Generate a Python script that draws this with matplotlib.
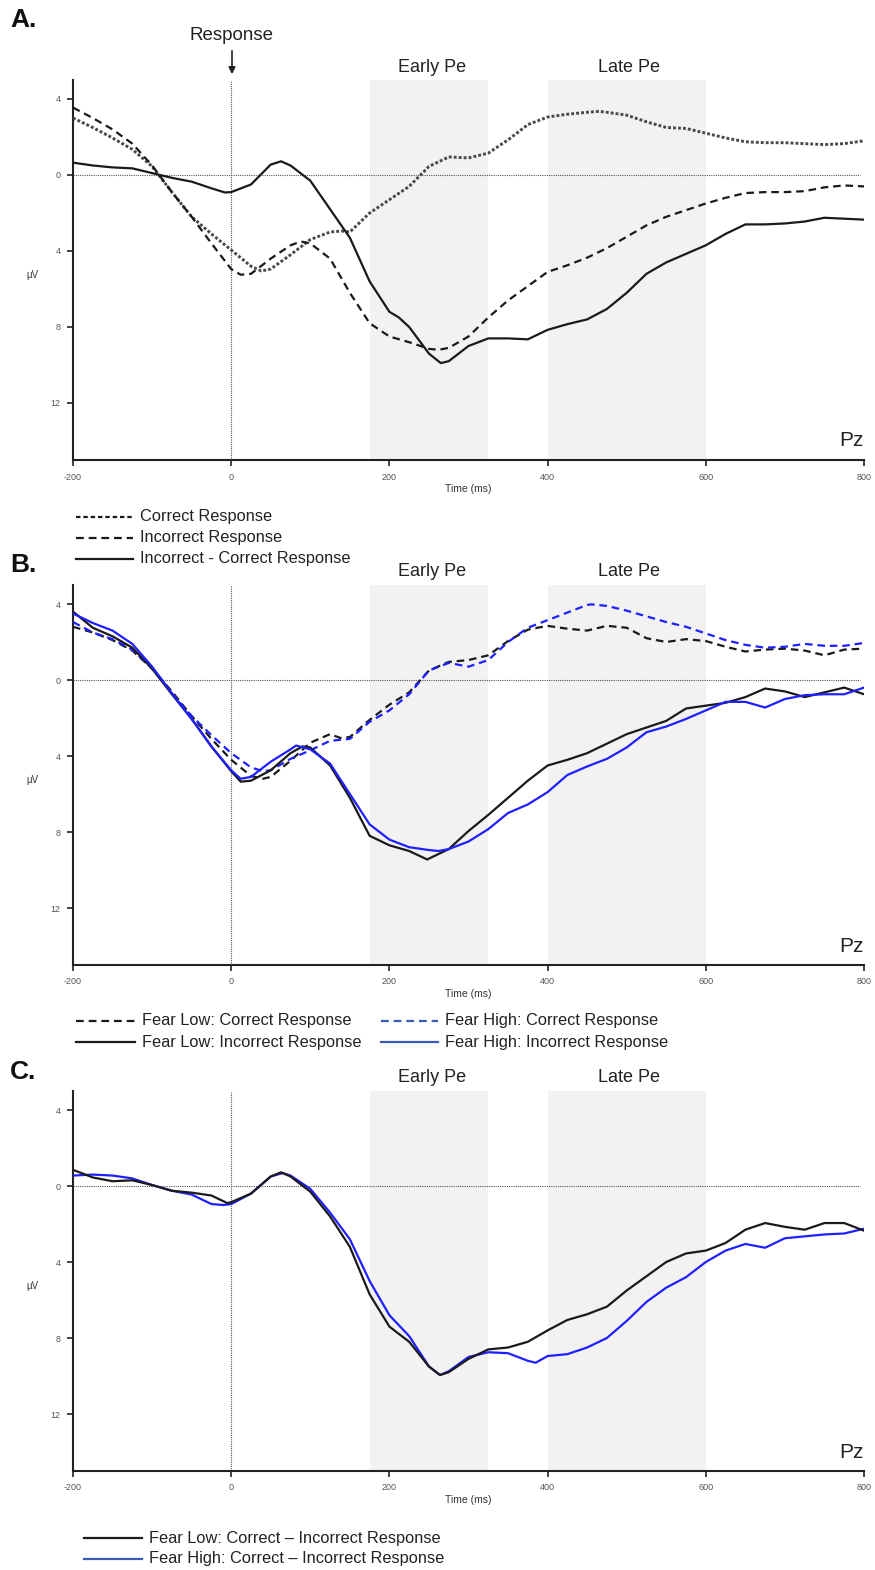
import matplotlib
matplotlib.use("Agg")
import matplotlib.pyplot as plt
from matplotlib.lines import Line2D
from matplotlib.patches import FancyArrowPatch
from matplotlib.ticker import FixedLocator, FixedFormatter

plt.rcParams['font.family'] = ['Liberation Sans', 'DejaVu Sans']
plt.rcParams['axes.unicode_minus'] = False

# ---- data (µV, positive plotted downward) ----
time_ms = list(range(-200, 801, 25))

a_correct = [-3.0, -2.5, -1.95, -1.35, -0.45, 0.9, 2.2, 3.1, 3.95, 4.8, 4.95, 4.2, 3.4,
             3.0, 3.0, 2.0, 1.3, 0.6, -0.45, -0.95, -0.9, -1.15, -1.85, -2.65, -3.05,
             -3.2, -3.3, -3.3, -3.15, -2.8, -2.5, -2.45, -2.2, -1.95, -1.75, -1.7, -1.7,
             -1.65, -1.6, -1.65, -1.8]
a_incorrect = [-3.55, -3.0, -2.4, -1.65, -0.5, 0.9, 2.2, 3.6, 4.95, 5.2, 4.4, 3.7, 3.6,
               4.4, 6.2, 7.8, 8.5, 8.8, 9.15, 9.1, 8.5, 7.5, 6.6, 5.85, 5.1, 4.75, 4.35,
               3.85, 3.25, 2.65, 2.2, 1.85, 1.5, 1.2, 0.95, 0.9, 0.9, 0.85, 0.65, 0.55, 0.6]
a_difference = [-0.65, -0.5, -0.4, -0.35, -0.1, 0.15, 0.35, 0.7, 0.9, 0.5, -0.55, -0.5,
                0.3, 1.8, 3.3, 5.6, 7.2, 8.0, 9.4, 9.8, 9.0, 8.6, 8.6, 8.65, 8.15, 7.85,
                7.6, 7.05, 6.2, 5.2, 4.6, 4.15, 3.7, 3.1, 2.6, 2.6, 2.55, 2.45, 2.25, 2.3, 2.35]

b_low_correct = [-2.8, -2.5, -2.1, -1.55, -0.6, 0.6, 1.9, 3.1, 4.2, 5.05, 5.1, 4.25, 3.3,
                 2.85, 3.0, 2.1, 1.3, 0.65, -0.5, -0.95, -1.05, -1.3, -2.05, -2.65, -2.85,
                 -2.7, -2.6, -2.85, -2.75, -2.2, -2.0, -2.15, -2.05, -1.75, -1.5, -1.6,
                 -1.65, -1.55, -1.3, -1.6, -1.65]
b_high_correct = [-3.05, -2.5, -2.15, -1.6, -0.6, 0.7, 1.9, 2.9, 3.85, 4.6, 4.75, 4.15, 3.7,
                  3.2, 3.1, 2.2, 1.6, 0.75, -0.5, -0.9, -0.7, -1.05, -2.0, -2.75, -3.15,
                  -3.55, -3.95, -3.9, -3.65, -3.35, -3.05, -2.8, -2.45, -2.1, -1.85, -1.7,
                  -1.75, -1.9, -1.8, -1.8, -1.95]
b_low_incorrect = [-3.6, -2.75, -2.3, -1.7, -0.6, 0.75, 2.05, 3.5, 4.8, 5.3, 4.75, 3.85,
                   3.55, 4.5, 6.2, 8.2, 8.7, 9.0, 9.4, 8.9, 7.95, 7.1, 6.2, 5.3, 4.5, 4.2,
                   3.85, 3.35, 2.85, 2.5, 2.15, 1.5, 1.35, 1.2, 0.9, 0.45, 0.6, 0.9, 0.65,
                   0.4, 0.75]
b_high_incorrect = [-3.5, -3.0, -2.6, -1.9, -0.7, 0.7, 2.05, 3.5, 4.75, 5.1, 4.3, 3.65,
                    3.65, 4.4, 6.0, 7.6, 8.4, 8.8, 8.95, 8.9, 8.5, 7.85, 7.0, 6.55, 5.9,
                    5.0, 4.55, 4.15, 3.55, 2.75, 2.45, 2.05, 1.6, 1.15, 1.15, 1.45, 1.0,
                    0.8, 0.75, 0.75, 0.4]

c_low_diff = [-0.85, -0.45, -0.25, -0.3, -0.05, 0.25, 0.35, 0.5, 0.85, 0.4, -0.5, -0.5,
              0.3, 1.6, 3.2, 5.7, 7.4, 8.2, 9.5, 9.8, 9.1, 8.6, 8.5, 8.2, 7.6, 7.05, 6.75,
              6.35, 5.5, 4.75, 4.0, 3.55, 3.4, 3.0, 2.3, 1.95, 2.15, 2.3, 1.95, 1.95, 2.35]
c_high_diff = [-0.55, -0.6, -0.55, -0.4, -0.05, 0.25, 0.45, 0.95, 0.95, 0.4, -0.5, -0.55,
               0.15, 1.4, 2.8, 5.0, 6.8, 7.9, 9.5, 9.75, 9.0, 8.75, 8.8, 9.2, 8.95, 8.85,
               8.5, 8.0, 7.1, 6.1, 5.35, 4.8, 4.0, 3.4, 3.05, 3.25, 2.75, 2.65, 2.55, 2.5, 2.25]

# extra samples at peaks and troughs (time, µV)
a_correct_peaks = [(38, 5.05), (140, 2.95), (465, -3.35)]
a_incorrect_peaks = [(12, 5.25), (88, 3.5), (262, 9.2)]
a_difference_peaks = [(-8, 0.92), (63, -0.72), (212, 7.5), (265, 9.9)]
b_low_correct_peaks = [(40, 5.2), (138, 3.05)]
b_high_correct_peaks = [(40, 4.8), (455, -3.98)]
b_low_incorrect_peaks = [(12, 5.35), (90, 3.5), (248, 9.45)]
b_high_incorrect_peaks = [(12, 5.2), (82, 3.45), (262, 9.0)]
c_low_diff_peaks = [(-5, 0.9), (63, -0.72), (264, 9.95)]
c_high_diff_peaks = [(-10, 1.0), (65, -0.68), (264, 9.95), (385, 9.3)]

x_ticks = [-200, 0, 200, 400, 600, 800]
y_ticks = [-4, 0, 4, 8, 12]
y_tick_labels = ["4", "0", "4", "8", "12"]
windows = [(175, 325, "Early Pe"), (400, 600, "Late Pe")]


def series(values, peaks):
    pts = sorted(list(zip(time_ms, values)) + list(peaks))
    return [p[0] for p in pts], [p[1] for p in pts]


# ---- layout helpers ----
W, H = 875, 1570
fig = plt.figure(figsize=(W / 100, H / 100), dpi=100)


def fx(px):
    return px / W


def fy(py):
    return 1 - py / H


BLACK = "#1a1a1a"
BLUE = "#1f1fff"
LEG_BLUE = "#3a5cb8"
DASH = (0, (3.4, 2.2))
DOT = (0, (1.0, 0.7))
TEXT = "#222222"
LW = 1.6


def make_axes(top_px, bottom_px):
    ax = fig.add_axes([fx(73), fy(bottom_px), fx(864) - fx(73),
                       (bottom_px - top_px) / H])
    ax.set_xlim(-200, 800)
    ax.set_ylim(15, -5)
    for lo, hi, _ in windows:
        ax.axvspan(lo, hi, color="#f2f2f2", zorder=0, lw=0)
    ax.axhline(0, color="#555555", lw=0.8, ls=(0, (1, 1)), zorder=1,
               xmax=0.995)
    ax.axvline(0, color="#555555", lw=0.8, ls=(0, (1, 1)), zorder=1)
    for s in ("top", "right"):
        ax.spines[s].set_visible(False)
    for s in ("left", "bottom"):
        ax.spines[s].set_linewidth(1.5)
        ax.spines[s].set_color(TEXT)
    ax.xaxis.set_major_locator(FixedLocator(x_ticks))
    ax.yaxis.set_major_locator(FixedLocator(y_ticks))
    ax.yaxis.set_major_formatter(FixedFormatter(y_tick_labels))
    ax.tick_params(direction="out", length=4, width=1.2, color=TEXT,
                   labelsize=6.5, labelcolor="#555555", pad=5)
    ax.text(1.0, 0.025, "Pz", transform=ax.transAxes, ha="right",
            va="bottom", fontsize=15, color=TEXT)
    return ax


def header(top_px, letter, letter_y):
    fig.text(fx(10), fy(letter_y), letter, fontsize=19, fontweight="bold",
             ha="left", va="center", color="#111111")
    for lo, hi, name in windows:
        centre = 232 + (lo + hi) / 2 * 0.791
        fig.text(fx(centre + 2), fy(top_px - 13), name, fontsize=13,
                 ha="center", va="center", color=TEXT)


def axis_labels(bottom_px, zero_px):
    fig.text(fx(468), fy(bottom_px + 29), "Time (ms)", fontsize=7.5,
             ha="center", va="center", color="#333333")
    fig.text(fx(32), fy(zero_px + 100), "µV", fontsize=7, ha="center",
             va="center", color="#333333")


def legend_row(x0, x1, y, label, color, ls):
    fig.add_artist(Line2D([fx(x0), fx(x1)], [fy(y), fy(y)], color=color,
                          lw=1.6, ls=ls, transform=fig.transFigure))
    fig.text(fx(x1 + 7), fy(y), label, fontsize=11.8, ha="left", va="center",
             color=TEXT)


def trace(ax, values, peaks, **kw):
    t, v = series(values, peaks)
    ax.plot(t, v, solid_joinstyle="round", dash_joinstyle="round", **kw)


# ---- panel A ----
axA = make_axes(80, 460)
header(80, "A.", 20)
axis_labels(460, 175)
trace(axA, a_correct, a_correct_peaks, color="#4a4a4a", lw=2.1, ls=DOT, zorder=3)
trace(axA, a_incorrect, a_incorrect_peaks, color=BLACK, lw=LW, ls=DASH, zorder=3)
trace(axA, a_difference, a_difference_peaks, color=BLACK, lw=LW, zorder=4)
fig.text(fx(232), fy(35), "Response", fontsize=13.5, ha="center", va="center",
         color=TEXT)
fig.add_artist(FancyArrowPatch(
    (fx(232), fy(48)), (fx(232), fy(77)), transform=fig.transFigure,
    arrowstyle="-|>,head_length=4,head_width=2", color=TEXT, lw=1.2))

legend_row(76, 133, 517, "Correct Response", BLACK, (0, (2.0, 1.3)))
legend_row(76, 133, 538, "Incorrect Response", BLACK, (0, (3.5, 2.2)))
legend_row(76, 133, 559, "Incorrect - Correct Response", BLACK, "-")

# ---- panel B ----
axB = make_axes(585, 965)
header(585, "B.", 565)
axis_labels(965, 680)
trace(axB, b_low_correct, b_low_correct_peaks, color=BLACK, lw=LW, ls=DASH, zorder=3)
trace(axB, b_high_correct, b_high_correct_peaks, color=BLUE, lw=LW, ls=DASH, zorder=3)
trace(axB, b_low_incorrect, b_low_incorrect_peaks, color=BLACK, lw=LW, zorder=4)
trace(axB, b_high_incorrect, b_high_incorrect_peaks, color=BLUE, lw=LW, zorder=4)

legend_row(76, 135, 1021, "Fear Low: Correct Response", BLACK, (0, (3.5, 2.2)))
legend_row(76, 135, 1042, "Fear Low: Incorrect Response", BLACK, "-")
legend_row(381, 438, 1021, "Fear High: Correct Response", LEG_BLUE, (0, (3.5, 2.2)))
legend_row(381, 438, 1042, "Fear High: Incorrect Response", LEG_BLUE, "-")

# ---- panel C ----
axC = make_axes(1091, 1471)
header(1091, "C.", 1072)
axis_labels(1471, 1186)
trace(axC, c_low_diff, c_low_diff_peaks, color=BLACK, lw=LW, zorder=4)
trace(axC, c_high_diff, c_high_diff_peaks, color=BLUE, lw=LW, zorder=3)

legend_row(84, 142, 1538, "Fear Low: Correct \u2013 Incorrect Response", BLACK, "-")
legend_row(84, 142, 1559, "Fear High: Correct \u2013 Incorrect Response", LEG_BLUE, "-")

fig.savefig("out.png", dpi=100)
